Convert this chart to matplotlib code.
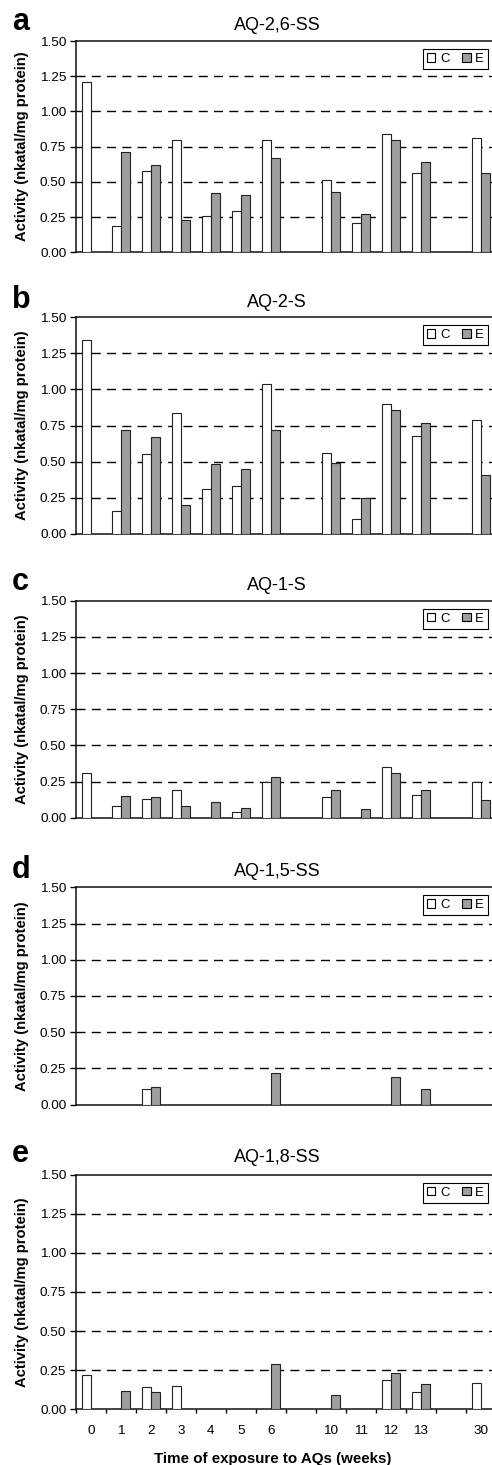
import numpy as np
import matplotlib
matplotlib.use("Agg")
from matplotlib import pyplot as plt
from matplotlib.patches import Patch

plt.rcParams['font.family'] = ['Liberation Sans', 'DejaVu Sans']

# x categories (blank slots are gaps in the time axis)
weeks = ["0", "1", "2", "3", "4", "5", "6", "", "10", "11", "12", "13", "", "30"]
letters = ["a", "b", "c", "d", "e"]
titles = ["AQ-2,6-SS", "AQ-2-S", "AQ-1-S", "AQ-1,5-SS", "AQ-1,8-SS"]

# activity values, None = no bar
aq26ss_c = [1.21, 0.19, 0.58, 0.80, 0.26, 0.29, 0.80, None, 0.51, 0.21, 0.84, 0.56, None, 0.81]
aq26ss_e = [None, 0.71, 0.62, 0.23, 0.42, 0.41, 0.67, None, 0.43, 0.27, 0.80, 0.64, None, 0.56]

aq2s_c = [1.34, 0.16, 0.55, 0.84, 0.31, 0.33, 1.04, None, 0.56, 0.10, 0.90, 0.68, None, 0.79]
aq2s_e = [None, 0.72, 0.67, 0.20, 0.48, 0.45, 0.72, None, 0.49, 0.25, 0.86, 0.77, None, 0.41]

aq1s_c = [0.31, 0.08, 0.13, 0.19, None, 0.04, 0.25, None, 0.14, None, 0.35, 0.16, None, 0.25]
aq1s_e = [None, 0.15, 0.14, 0.08, 0.11, 0.07, 0.28, None, 0.19, 0.06, 0.31, 0.19, None, 0.12]

aq15ss_c = [None, None, 0.11, None, None, None, None, None, None, None, None, None, None, None]
aq15ss_e = [None, None, 0.12, None, None, None, 0.22, None, None, None, 0.19, 0.11, None, None]

aq18ss_c = [0.22, None, 0.14, 0.15, None, None, None, None, None, None, 0.19, 0.11, None, 0.17]
aq18ss_e = [None, 0.12, 0.11, None, None, None, 0.29, None, 0.09, None, 0.23, 0.16, None, None]

series_c = [aq26ss_c, aq2s_c, aq1s_c, aq15ss_c, aq18ss_c]
series_e = [aq26ss_e, aq2s_e, aq1s_e, aq15ss_e, aq18ss_e]

W, H = 492, 1465
# pixel rows of the 1.50 line and the 0.00 line of each panel
tops = [41, 317.3, 600.7, 887.3, 1174.7]
bottoms = [252.3, 533.7, 817.7, 1104.7, 1409.3]
title_base = [29.5, 306.7, 589.5, 876.5, 1161.5]
ax_left, ax_right = 76, 496

gray = '#9e9e9e'
bw = 0.31

fig = plt.figure(figsize=(W / 100, H / 100), dpi=100)

def fy(y):
    return 1 - y / H

x = np.arange(len(weeks))
for k in range(5):
    ax = fig.add_axes([ax_left / W, fy(bottoms[k]), (ax_right - ax_left) / W,
                       (bottoms[k] - tops[k]) / H])
    c = np.array([np.nan if v is None else v for v in series_c[k]])
    e = np.array([np.nan if v is None else v for v in series_e[k]])
    mc = ~np.isnan(c)
    me = ~np.isnan(e)
    ax.bar(x[mc] - bw / 2, c[mc], bw, color='white', edgecolor='#222222', linewidth=0.8, zorder=3)
    ax.bar(x[me] + bw / 2, e[me], bw, color=gray, edgecolor='#222222', linewidth=0.8, zorder=3)

    ax.set_xlim(-0.5, len(weeks) - 0.5)
    ax.set_ylim(0, 1.5)
    ax.set_yticks(np.arange(0, 1.51, 0.25))
    ax.set_yticklabels(["%.2f" % v for v in np.arange(0, 1.51, 0.25)], fontsize=9.7)
    for v in np.arange(0.25, 1.3, 0.25):
        ax.axhline(v, color='black', lw=1.0, linestyle=(0, (6.5, 4.5)), zorder=1)
    ax.tick_params(axis='y', direction='out', length=4.5, width=1, pad=2.5)

    for s in ['left', 'bottom', 'top']:
        ax.spines[s].set_linewidth(1.1)
        ax.spines[s].set_color('#111111')
    ax.spines['right'].set_visible(False)

    if k == 4:
        ax.set_xticks(x)
        ax.set_xticklabels(weeks, fontsize=9.7)
        ax.set_xticks(np.arange(-0.5, len(weeks) - 0.4, 1), minor=True)
        ax.tick_params(axis='x', which='major', length=0, pad=11)
        ax.tick_params(axis='x', which='minor', direction='out', length=3.2, width=1)
    else:
        ax.set_xticks([])

    leg = ax.legend(handles=[Patch(fc='white', ec='black', lw=0.8, label='C'),
                             Patch(fc=gray, ec='black', lw=0.8, label='E')],
                    ncol=2, loc='upper right', bbox_to_anchor=(488 / W, fy(tops[k] + 8)),
                    bbox_transform=fig.transFigure, fancybox=False, edgecolor='black',
                    framealpha=1, fontsize=9.5, handlelength=0.65, handleheight=0.65,
                    handletextpad=0.35, columnspacing=0.95, borderpad=0.3, borderaxespad=0)
    leg.get_frame().set_linewidth(0.8)

    fig.text(277 / W, fy(title_base[k]), titles[k], fontsize=13, ha='center', va='baseline')
    fig.text(12 / W, fy(title_base[k] + 1), letters[k], fontsize=22, fontweight='bold',
             ha='left', va='baseline')
    fig.text(22 / W, fy((tops[k] + bottoms[k]) / 2), "Activity (nkatal/mg protein)",
             fontsize=10.6, fontweight='bold', rotation=90, ha='center', va='center')

fig.text(273 / W, fy(1462.7), "Time of exposure to AQs (weeks)", fontsize=10.9,
         fontweight='bold', ha='center', va='baseline')

fig.savefig("out.png", dpi=100)
